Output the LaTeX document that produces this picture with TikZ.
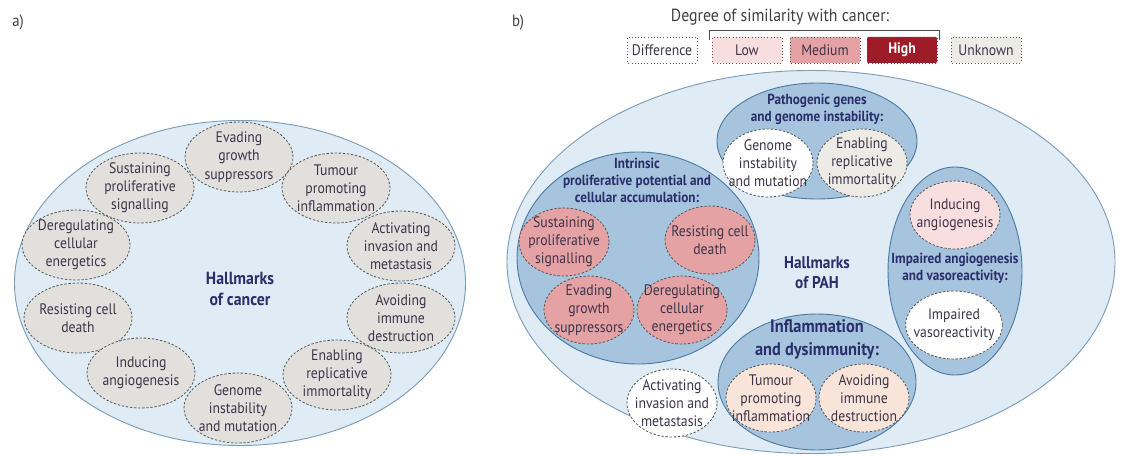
\documentclass[tikz,border=0pt]{standalone}
\usepackage{fontspec}
\setmainfont{PT Sans}[FakeStretch=0.9]
\usetikzlibrary{shapes.geometric}

\definecolor{fondo}{HTML}{DFECF5}
\definecolor{fondoline}{HTML}{7E9DBA}
\definecolor{grupofill}{HTML}{A6C4DD}
\definecolor{grupoline}{HTML}{4F7BA3}
\definecolor{textocol}{HTML}{3E3449}
\definecolor{titulocol}{HTML}{2A2E6A}
\definecolor{cinza}{HTML}{E1E0DD}
\definecolor{baixo}{HTML}{F9DEDF}
\definecolor{medio}{HTML}{E4A2A4}
\definecolor{alto}{HTML}{9E1B28}
\definecolor{desconhecido}{HTML}{EDEBE6}
\definecolor{pessego}{HTML}{F8E4D8}

\begin{document}
\begin{tikzpicture}[
		  x=0.03cm, y=-0.03cm,
		  every node/.style={font=\fontsize{13}{15.5}\selectfont, text=textocol}
		]

		\tikzset{
		    fundo/.style={ellipse, draw=fondoline, fill=fondo, line width=0.8pt, inner sep=0pt},
		    grupo/.style={ellipse, draw=grupoline, fill=grupofill, line width=0.8pt, inner sep=0pt},
		    marca/.style={ellipse, draw=gray!70!black, dash pattern=on 2pt off 1.5pt, line width=0.7pt, align=center, inner sep=-8pt,
		                  minimum width=3.24cm, minimum height=2.1cm},
		    marcab/.style={marca, minimum width=2.7cm, minimum height=2.04cm},
		    titulo/.style={font=\bfseries\fontsize{12.5}{14.5}\selectfont, text=titulocol, align=center},
		    legenda/.style={draw=gray!70!black, dotted, line width=0.7pt, rounded corners=1pt,
		                    minimum width=2.1cm, minimum height=0.78cm, inner sep=0pt}
		}

		% painel a
		\node[font=\fontsize{14}{16}\selectfont, text=black!75] (la) at (18,22) {a)};
		\node[fundo, minimum width=13.53cm, minimum height=9.75cm] (ca) at (240,283) {};
		\node[titulo, font=\bfseries\fontsize{15}{18}\selectfont] (hc) at (240,289) {Hallmarks\\of cancer};

		\node[marca, fill=cinza] (a1) at (239,157) {Evading\\growth\\suppressors};
		\node[marca, fill=cinza] (a2) at (140,188) {Sustaining\\proliferative\\signalling};
		\node[marca, fill=cinza] (a3) at (336,188) {Tumour\\promoting\\inflammation};
		\node[marca, fill=cinza] (a4) at (76,245) {Deregulating\\cellular\\energetics};
		\node[marca, fill=cinza] (a5) at (401,246) {Activating\\invasion and\\metastasis};
		\node[marca, fill=cinza] (a6) at (78,318) {Resisting cell\\death};
		\node[marca, fill=cinza] (a7) at (401,318) {Avoiding\\immune\\destruction};
		\node[marca, fill=cinza] (a8) at (141,373) {Inducing\\angiogenesis};
		\node[marca, fill=cinza] (a9) at (337,375) {Enabling\\replicative\\immortality};
		\node[marca, fill=cinza] (a10) at (238,408) {Genome\\instability\\and mutation};

		% painel b
		\node[font=\fontsize{14}{16}\selectfont, text=black!75] (lb) at (518,22) {b)};
		\node[font=\fontsize{15}{17}\selectfont, text=black!75] (grau) at (780,17) {Degree of similarity with cancer:};

		% legenda
		\node[legenda, fill=white] (dif) at (662,50) {Difference};
		\node[legenda, fill=baixo] (low) at (747,50) {Low};
		\node[legenda, fill=medio] (med) at (825,50) {Medium};
		\node[legenda, fill=alto, text=white, font=\bfseries\fontsize{13}{15}\selectfont] (high) at (902,50) {High};
		\node[legenda, fill=desconhecido] (unk) at (986,50) {Unknown};
		\draw[black!70, line width=0.8pt] ([xshift=-2pt, yshift=-3pt]low.north west) -- ++(0,-10) -| ([xshift=2pt, yshift=-3pt]high.north east);

		\node[fundo, minimum width=18.24cm, minimum height=11.49cm] (cb) at (811,262) {};

		% grupos
		\node[grupo, minimum width=7.26cm, minimum height=6.36cm] (gint) at (638,258) {};
		\node[grupo, minimum width=6.0cm, minimum height=3.48cm] (ggen) at (817,141) {};
		\node[grupo, minimum width=4.02cm, minimum height=6.24cm] (gang) at (955,271) {};
		\node[grupo, minimum width=5.94cm, minimum height=4.08cm] (ginf) at (817,382) {};

		\node[titulo, font=\bfseries\fontsize{14.5}{17}\selectfont] (hp) at (817,273) {Hallmarks\\of PAH};
		\node[titulo] (tgen) at (817,109) {Pathogenic genes\\and genome instability:};
		\node[titulo] (tint) at (637,180) {Intrinsic\\proliferative potential and\\cellular accumulation:};
		\node[titulo] (tang) at (955,268) {Impaired angiogenesis\\and vasoreactivity:};
		\node[titulo, font=\bfseries\fontsize{15.5}{19.5}\selectfont] (tinf) at (817,339) {Inflammation\\and dysimmunity:};

		\node[marcab, fill=white] (b1) at (768,163) {Genome\\instability\\and mutation};
		\node[marcab, fill=desconhecido] (b2) at (862,163) {Enabling\\replicative\\immortality};
		\node[marcab, fill=medio] (b3) at (564,242) {Sustaining\\proliferative\\signalling};
		\node[marcab, fill=medio] (b4) at (710,240) {Resisting cell\\death};
		\node[marcab, fill=medio] (b5) at (589,310) {Evading\\growth\\suppressors};
		\node[marcab, fill=medio] (b6) at (682,310) {Deregulating\\cellular\\energetics};
		\node[marcab, fill=baixo] (b7) at (955,215) {Inducing\\angiogenesis};
		\node[marcab, fill=white, minimum width=2.9cm] (b8) at (954,325) {Impaired\\vasoreactivity};
		\node[marcab, fill=pessego] (b9) at (771,398) {Tumour\\promoting\\inflammation};
		\node[marcab, fill=pessego] (b10) at (864,398) {Avoiding\\immune\\destruction};
		\node[marcab, fill=white] (b11) at (672,403) {Activating\\invasion and\\metastasis};

		\useasboundingbox (0,0) rectangle (1126,457);
\end{tikzpicture}
\end{document}
